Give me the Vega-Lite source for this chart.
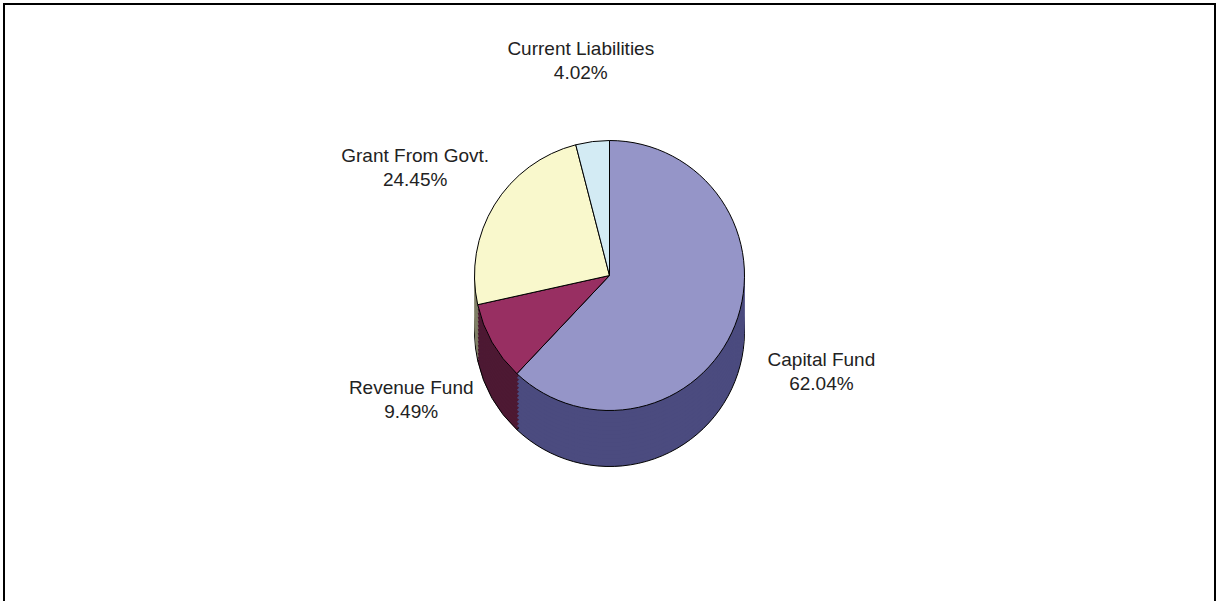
{
  "$schema": "https://vega.github.io/schema/vega-lite/v6.json",
  "width": 1217,
  "height": 601,
  "autosize": {"type": "fit", "contains": "padding"},
  "padding": {"left": 3, "top": 3, "right": 1, "bottom": -3},
  "background": "white",
  "config": {"view": {"stroke": null}},
  "data": {
    "values": [
      {"category": "Capital Fund", "share": 62.04, "rank": 1, "label": "Capital Fund\n62.04%"},
      {"category": "Revenue Fund", "share": 9.49, "rank": 2, "label": "Revenue Fund\n9.49%"},
      {"category": "Grant From Govt.", "share": 24.45, "rank": 3, "label": "Grant From Govt.\n24.45%"},
      {"category": "Current Liabilities", "share": 4.02, "rank": 4, "label": "Current Liabilities\n4.02%"}
    ]
  },
  "layer": [
    {
      "mark": {"type": "rect", "fill": "white", "stroke": "#000000", "strokeWidth": 2},
      "encoding": {}
    },
    {
      "mark": {"type": "arc", "outerRadius": 135, "yOffset": 28, "stroke": "#000000", "strokeWidth": 1},
      "encoding": {
        "theta": {"field": "share", "type": "quantitative", "stack": true},
        "order": {"field": "rank", "type": "quantitative"},
        "color": {"field": "category", "type": "nominal", "legend": null,
          "scale": {"domain": ["Capital Fund", "Revenue Fund", "Grant From Govt.", "Current Liabilities"], "range": ["#4B4B7F", "#4D1933", "#7F7F66", "#6A7A80"]}}
      }
    },
    {"mark": {"type": "arc", "outerRadius": 135, "yOffset": 24}, "encoding": {"theta": {"field": "share", "type": "quantitative", "stack": true}, "order": {"field": "rank", "type": "quantitative"}, "color": {"field": "category", "type": "nominal", "legend": null, "scale": {"domain": ["Capital Fund", "Revenue Fund", "Grant From Govt.", "Current Liabilities"], "range": ["#4B4B7F", "#4D1933", "#7F7F66", "#6A7A80"]}}}},
    {"mark": {"type": "arc", "outerRadius": 135, "yOffset": 20}, "encoding": {"theta": {"field": "share", "type": "quantitative", "stack": true}, "order": {"field": "rank", "type": "quantitative"}, "color": {"field": "category", "type": "nominal", "legend": null, "scale": {"domain": ["Capital Fund", "Revenue Fund", "Grant From Govt.", "Current Liabilities"], "range": ["#4B4B7F", "#4D1933", "#7F7F66", "#6A7A80"]}}}},
    {"mark": {"type": "arc", "outerRadius": 135, "yOffset": 16}, "encoding": {"theta": {"field": "share", "type": "quantitative", "stack": true}, "order": {"field": "rank", "type": "quantitative"}, "color": {"field": "category", "type": "nominal", "legend": null, "scale": {"domain": ["Capital Fund", "Revenue Fund", "Grant From Govt.", "Current Liabilities"], "range": ["#4B4B7F", "#4D1933", "#7F7F66", "#6A7A80"]}}}},
    {"mark": {"type": "arc", "outerRadius": 135, "yOffset": 12}, "encoding": {"theta": {"field": "share", "type": "quantitative", "stack": true}, "order": {"field": "rank", "type": "quantitative"}, "color": {"field": "category", "type": "nominal", "legend": null, "scale": {"domain": ["Capital Fund", "Revenue Fund", "Grant From Govt.", "Current Liabilities"], "range": ["#4B4B7F", "#4D1933", "#7F7F66", "#6A7A80"]}}}},
    {"mark": {"type": "arc", "outerRadius": 135, "yOffset": 8}, "encoding": {"theta": {"field": "share", "type": "quantitative", "stack": true}, "order": {"field": "rank", "type": "quantitative"}, "color": {"field": "category", "type": "nominal", "legend": null, "scale": {"domain": ["Capital Fund", "Revenue Fund", "Grant From Govt.", "Current Liabilities"], "range": ["#4B4B7F", "#4D1933", "#7F7F66", "#6A7A80"]}}}},
    {"mark": {"type": "arc", "outerRadius": 135, "yOffset": 4}, "encoding": {"theta": {"field": "share", "type": "quantitative", "stack": true}, "order": {"field": "rank", "type": "quantitative"}, "color": {"field": "category", "type": "nominal", "legend": null, "scale": {"domain": ["Capital Fund", "Revenue Fund", "Grant From Govt.", "Current Liabilities"], "range": ["#4B4B7F", "#4D1933", "#7F7F66", "#6A7A80"]}}}},
    {"mark": {"type": "arc", "outerRadius": 135, "yOffset": 0}, "encoding": {"theta": {"field": "share", "type": "quantitative", "stack": true}, "order": {"field": "rank", "type": "quantitative"}, "color": {"field": "category", "type": "nominal", "legend": null, "scale": {"domain": ["Capital Fund", "Revenue Fund", "Grant From Govt.", "Current Liabilities"], "range": ["#4B4B7F", "#4D1933", "#7F7F66", "#6A7A80"]}}}},
    {"mark": {"type": "arc", "outerRadius": 135, "yOffset": -4}, "encoding": {"theta": {"field": "share", "type": "quantitative", "stack": true}, "order": {"field": "rank", "type": "quantitative"}, "color": {"field": "category", "type": "nominal", "legend": null, "scale": {"domain": ["Capital Fund", "Revenue Fund", "Grant From Govt.", "Current Liabilities"], "range": ["#4B4B7F", "#4D1933", "#7F7F66", "#6A7A80"]}}}},
    {"mark": {"type": "arc", "outerRadius": 135, "yOffset": -8}, "encoding": {"theta": {"field": "share", "type": "quantitative", "stack": true}, "order": {"field": "rank", "type": "quantitative"}, "color": {"field": "category", "type": "nominal", "legend": null, "scale": {"domain": ["Capital Fund", "Revenue Fund", "Grant From Govt.", "Current Liabilities"], "range": ["#4B4B7F", "#4D1933", "#7F7F66", "#6A7A80"]}}}},
    {"mark": {"type": "arc", "outerRadius": 135, "yOffset": -12}, "encoding": {"theta": {"field": "share", "type": "quantitative", "stack": true}, "order": {"field": "rank", "type": "quantitative"}, "color": {"field": "category", "type": "nominal", "legend": null, "scale": {"domain": ["Capital Fund", "Revenue Fund", "Grant From Govt.", "Current Liabilities"], "range": ["#4B4B7F", "#4D1933", "#7F7F66", "#6A7A80"]}}}},
    {"mark": {"type": "arc", "outerRadius": 135, "yOffset": -16}, "encoding": {"theta": {"field": "share", "type": "quantitative", "stack": true}, "order": {"field": "rank", "type": "quantitative"}, "color": {"field": "category", "type": "nominal", "legend": null, "scale": {"domain": ["Capital Fund", "Revenue Fund", "Grant From Govt.", "Current Liabilities"], "range": ["#4B4B7F", "#4D1933", "#7F7F66", "#6A7A80"]}}}},
    {"mark": {"type": "arc", "outerRadius": 135, "yOffset": -20}, "encoding": {"theta": {"field": "share", "type": "quantitative", "stack": true}, "order": {"field": "rank", "type": "quantitative"}, "color": {"field": "category", "type": "nominal", "legend": null, "scale": {"domain": ["Capital Fund", "Revenue Fund", "Grant From Govt.", "Current Liabilities"], "range": ["#4B4B7F", "#4D1933", "#7F7F66", "#6A7A80"]}}}},
    {"mark": {"type": "arc", "outerRadius": 135, "yOffset": -24}, "encoding": {"theta": {"field": "share", "type": "quantitative", "stack": true}, "order": {"field": "rank", "type": "quantitative"}, "color": {"field": "category", "type": "nominal", "legend": null, "scale": {"domain": ["Capital Fund", "Revenue Fund", "Grant From Govt.", "Current Liabilities"], "range": ["#4B4B7F", "#4D1933", "#7F7F66", "#6A7A80"]}}}},
    {
      "mark": {"type": "arc", "outerRadius": 135, "yOffset": -28, "stroke": "#000000", "strokeWidth": 1},
      "encoding": {
        "theta": {"field": "share", "type": "quantitative", "stack": true},
        "order": {"field": "rank", "type": "quantitative"},
        "color": {"field": "category", "type": "nominal", "legend": null,
          "scale": {"domain": ["Capital Fund", "Revenue Fund", "Grant From Govt.", "Current Liabilities"], "range": ["#9595C8", "#982F62", "#F9F8CC", "#D3EBF4"]}}
      }
    },
    {
      "mark": {"type": "text", "radius": 228, "yOffset": -28, "font": "Liberation Sans", "fontSize": 19, "lineBreak": "\n", "color": "#222222", "baseline": "middle", "lineHeight": 24},
      "encoding": {
        "theta": {"field": "share", "type": "quantitative", "stack": true},
        "order": {"field": "rank", "type": "quantitative"},
        "text": {"field": "label", "type": "nominal"}
      }
    }
  ],
  "resolve": {"scale": {"color": "independent"}}
}
